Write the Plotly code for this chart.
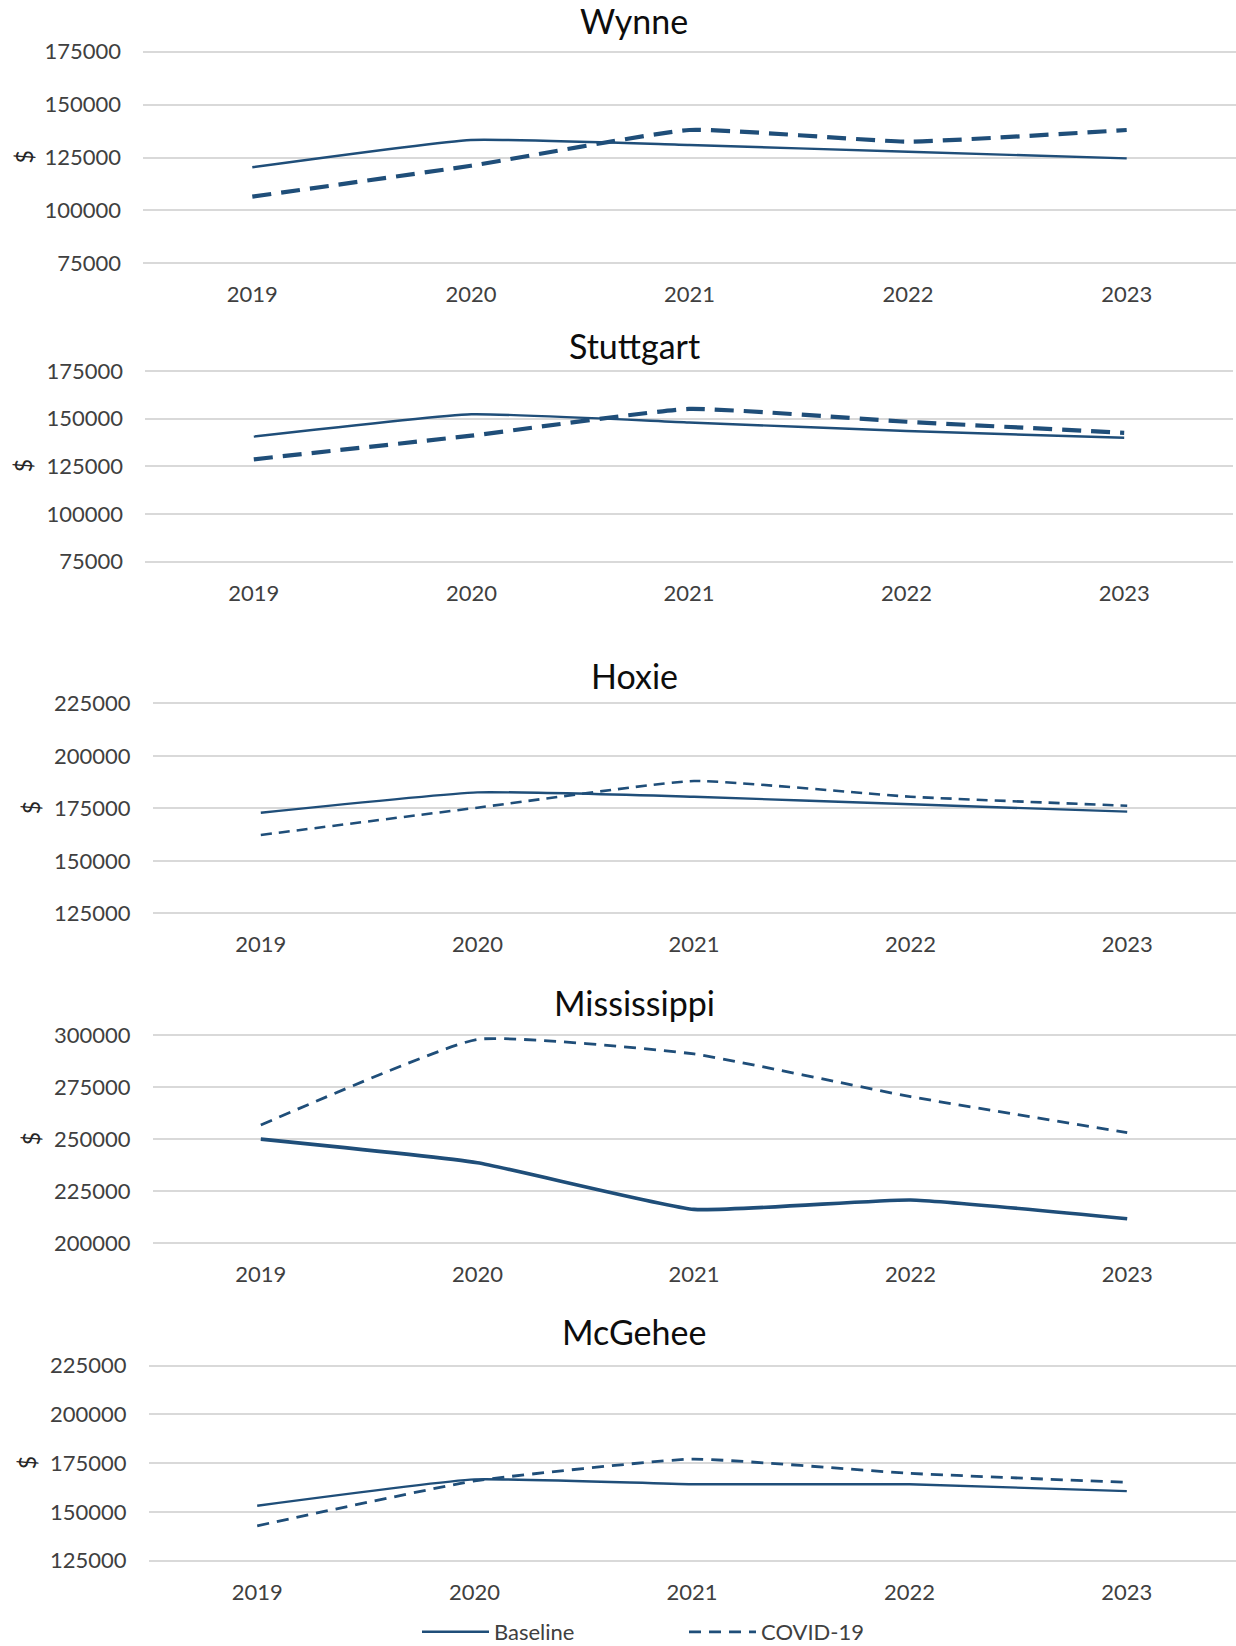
import plotly.graph_objects as go

# ---------------- data ----------------
years = ["2019", "2020", "2021", "2022", "2023"]
panel_titles = ["Wynne", "Stuttgart", "Hoxie", "Mississippi", "McGehee"]
series_names = ["Baseline", "COVID-19"]

wynne_baseline = [120400, 133300, 130900, 127700, 124600]
wynne_covid = [106500, 121100, 138000, 132500, 138000]
stuttgart_baseline = [140600, 152300, 148000, 143500, 140000]
stuttgart_covid = [128700, 141100, 155100, 148400, 142600]
hoxie_baseline = [172900, 182600, 180500, 176900, 173400]
hoxie_covid = [162300, 175300, 188000, 180500, 176200]
mississippi_baseline = [250000, 238700, 216300, 220800, 211800]
mississippi_covid = [256800, 297900, 290900, 270400, 253100]
mcgehee_baseline = [153200, 166700, 164200, 164200, 160700]
mcgehee_covid = [142900, 165900, 177100, 169800, 165200]

y_mins = [75000, 75000, 125000, 200000, 125000]
y_maxs = [175000, 175000, 225000, 300000, 225000]
y_axis_label = "$"

baselines = [wynne_baseline, stuttgart_baseline, hoxie_baseline, mississippi_baseline, mcgehee_baseline]
covids = [wynne_covid, stuttgart_covid, hoxie_covid, mississippi_covid, mcgehee_covid]

# ---------------- layout (pixels) ----------------
W, H = 1236, 1646
# plot area: (left, right, top, bottom) in px  (top = max gridline, bottom = min gridline)
boxes = [
    (143, 1236, 51.7, 263.3),
    (145, 1233, 371.0, 561.7),
    (152.5, 1235.5, 703.3, 913.3),
    (152.5, 1235.5, 1035.0, 1243.3),
    (148.5, 1235.5, 1365.7, 1560.7),
]
title_y = [21, 346, 675, 1002, 1331]
dollar_x = [23, 23, 31, 31, 27]
base_w = [2.4, 2.4, 2.4, 3.6, 2.4]
covid_w = [4.2, 4.2, 2.6, 2.8, 2.8]
covid_dash = ["19px,10px", "19px,10px", "11px,7px", "12px,8px", "12px,8px"]
PAD = 3  # px of extra room so that end gridlines are drawn

COLOR = "#1F4E79"
FONT = "Lato"
TICKC = "#404040"

def fx(px):
    return px / W

def fy(px):
    return 1 - px / H

fig = go.Figure()
layout = dict(
    template="none",
    width=W, height=H,
    margin=dict(l=0, r=0, t=0, b=0, pad=0, autoexpand=False),
    paper_bgcolor="white", plot_bgcolor="white",
    font=dict(family=FONT, size=22, color=TICKC),
    showlegend=True,
    annotations=[],
)

for i in range(5):
    sfx = "" if i == 0 else str(i + 1)
    l, r, t, b = boxes[i]
    last = (i == 4)
    per_px = (y_maxs[i] - y_mins[i]) / (b - t)
    yr = [y_mins[i] - PAD * per_px, y_maxs[i] + PAD * per_px]
    fig.add_trace(go.Scatter(
        x=years, y=baselines[i], name=series_names[0], mode="lines",
        line=dict(color=COLOR, width=base_w[i], shape="spline", smoothing=0.4),
        xaxis="x" + sfx, yaxis="y" + sfx, showlegend=last, legendrank=1,
    ))
    fig.add_trace(go.Scatter(
        x=years, y=covids[i], name=series_names[1], mode="lines",
        line=dict(color=COLOR, width=covid_w[i], dash=covid_dash[i], shape="spline", smoothing=0.4),
        xaxis="x" + sfx, yaxis="y" + sfx, showlegend=last, legendrank=2,
    ))
    layout["xaxis" + sfx] = dict(
        domain=[fx(l), fx(r)], anchor="y" + sfx, type="category",
        categoryorder="array", categoryarray=years,
        range=[-0.5, 4.5], showgrid=False, zeroline=False, showline=False,
        ticks="", ticklabelstandoff=13, fixedrange=True, automargin=False,
        tickfont=dict(family=FONT, size=22, color=TICKC),
    )
    layout["yaxis" + sfx] = dict(
        domain=[fy(b + PAD), fy(t - PAD)], anchor="x" + sfx, range=yr,
        tickmode="linear", tick0=0, dtick=25000, tickformat="d",
        showgrid=True, gridcolor="#D9D9D9", gridwidth=2,
        zeroline=False, showline=False, ticks="", ticklabelstandoff=21,
        tickfont=dict(family=FONT, size=22, color=TICKC), fixedrange=True,
        automargin=False,
    )
    layout["annotations"].append(dict(
        text=panel_titles[i], xref="paper", yref="paper",
        x=fx(634), y=fy(title_y[i]), xanchor="center", yanchor="middle",
        showarrow=False, font=dict(family=FONT, size=34, color="#0D0D0D"),
    ))
    layout["annotations"].append(dict(
        text=y_axis_label, xref="paper", yref="paper", textangle=-90,
        x=fx(dollar_x[i]), y=fy((t + b) / 2), xanchor="center", yanchor="middle",
        showarrow=False, font=dict(family=FONT, size=23, color="#262626"),
    ))

layout["legend"] = dict(
    orientation="h", x=fx(417), y=fy(1632), xanchor="left", yanchor="middle",
    font=dict(family=FONT, size=22, color=TICKC),
    itemwidth=67, entrywidth=185, entrywidthmode="pixels",
    bgcolor="rgba(0,0,0,0)",
)
fig.update_layout(**layout)

fig.write_html("out.html", config={"displayModeBar": False},
               post_script="document.body.style.margin='0';")
